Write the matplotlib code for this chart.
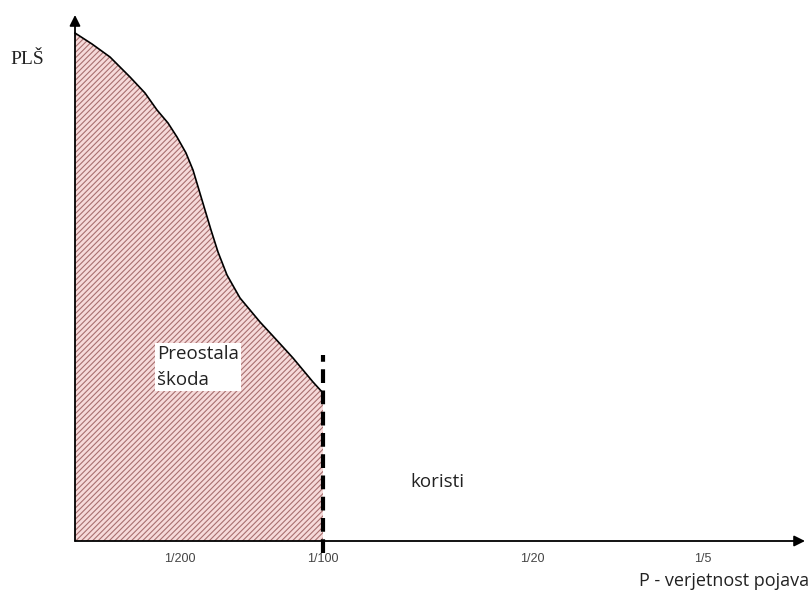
import matplotlib.pyplot as plt

# schematic curve of residual damage (x = position along probability axis, y = PLŠ)
curve_x = [0, 17, 35, 55, 70, 82, 93, 102, 111, 118, 124, 130, 136, 143,
           152, 165, 175, 185, 197, 208, 218, 228, 238, 248]
curve_y = [508, 497, 484, 464, 448, 431, 418, 404, 388, 371, 351, 331, 311, 289,
           266, 243, 231, 219, 206, 194, 183, 171, 159, 148]

# tick positions and labels on the probability axis
tick_pos = [105, 248, 457, 628]
tick_labels = ["1/200", "1/100", "1/20", "1/5"]

# where the design probability (1/100) cuts off
limit_x = 248
limit_top = 186

# axis extents
x_end = 730
y_end = 526

plt.rcParams['hatch.linewidth'] = 0.8
plt.rcParams['hatch.color'] = '#a87070'

fig = plt.figure(figsize=(8.11, 5.92), dpi=100)
ax = fig.add_axes([0, 0, 1, 1])
ax.set_xlim(-75, 736)
ax.set_ylim(-51, 541)
ax.axis('off')

# hatched area under the curve
ax.fill_between(curve_x, curve_y, 0, facecolor='#f6dada', hatch='//////',
                edgecolor='#a87070', linewidth=0)
ax.plot(curve_x, curve_y, color='black', lw=1.2)

# axes with arrows
ax.annotate('', xy=(0, y_end), xytext=(0, 0),
            arrowprops=dict(arrowstyle='-|>', color='black', lw=1.3,
                            mutation_scale=16, shrinkA=0, shrinkB=0))
ax.annotate('', xy=(x_end, 0), xytext=(0, 0),
            arrowprops=dict(arrowstyle='-|>', color='black', lw=1.3,
                            mutation_scale=16, shrinkA=0, shrinkB=0))

# dashed limit line
ax.plot([limit_x, limit_x], [-12, limit_top], color='black', lw=3,
        linestyle=(0, (3.3, 1.8)))

# tick labels
for pos, lab in zip(tick_pos, tick_labels):
    ax.text(pos, -18, lab, ha='center', va='center', fontsize=9,
            color='#444444', family='Liberation Sans')

ax.text(734, -40, "P - verjetnost pojava", ha='right', va='center',
        fontsize=13, color='#222222', family='Open Sans')
ax.text(-65, 481, "PLŠ", ha='left', va='center', fontsize=14,
        family='Liberation Serif', color='#222222')
ax.text(335, 59, "koristi", ha='left', va='center', fontsize=13.5,
        family='Open Sans', color='#222222')
ax.text(82, 196, "Preostala\nškoda", ha='left', va='top', fontsize=13.5,
        family='Open Sans', color='#222222', linespacing=1.55,
        bbox=dict(facecolor='white', edgecolor='none', pad=1.5))

fig.savefig('out.png', dpi=100)
